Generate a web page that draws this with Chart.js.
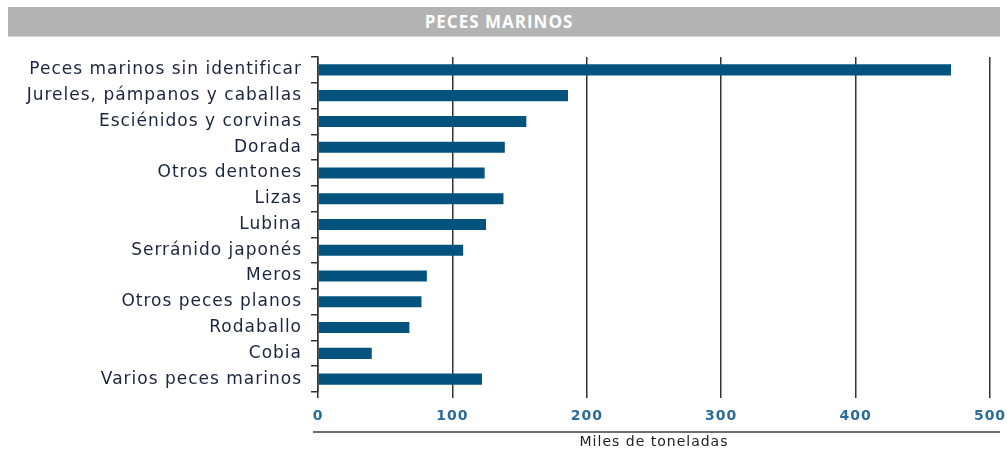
<!doctype html>
<html lang="es">
<head>
<meta charset="utf-8">
<title>Peces marinos</title>
<script src="https://cdn.jsdelivr.net/npm/chart.js"></script>
<style>
  html, body { margin: 0; padding: 0; background: #fff; }
  #wrap { position: relative; width: 1007px; height: 452px; }
  #banner {
    position: absolute; left: 8px; top: 7px; width: 992px; height: 30px;
    box-sizing: border-box; padding-right: 10px;
    background: #b3b3b3; color: #fff; text-align: center; line-height: 30px;
    font-family: "Open Sans", sans-serif; font-weight: bold; font-size: 17px; letter-spacing: 1px;
    border-bottom: 1px solid #d6d6d6;
  }
  canvas { position: absolute; left: 0; top: 0; }
</style>
</head>
<body>
<div id="wrap">
  <canvas id="barChart" width="1007" height="452"></canvas>
  <div id="banner">PECES MARINOS</div>
</div>
<script>
// data (miles de toneladas)
var species = ['Peces marinos sin identificar', 'Jureles, pámpanos y caballas', 'Esciénidos y corvinas',
  'Dorada', 'Otros dentones', 'Lizas', 'Lubina', 'Serránido japonés', 'Meros',
  'Otros peces planos', 'Rodaballo', 'Cobia', 'Varios peces marinos'];
var tonnes = [471, 186, 155, 139, 124, 138, 125, 108, 81, 77, 68, 40, 122];
var xTicks = [0, 100, 200, 300, 400, 500];
var axisTitle = 'Miles de toneladas';

// the source typeface is set a bit loose
var spacing = {
  id: 'spacing',
  beforeDraw: function(chart) { chart.ctx.letterSpacing = '1px'; }
};

// thin rule between the tick labels and the axis title
var underline = {
  id: 'underline',
  afterDraw: function(chart) {
    var ctx = chart.ctx, area = chart.chartArea, xs = chart.scales.x;
    ctx.save();
    ctx.strokeStyle = '#6e6e6e';
    ctx.lineWidth = 2;
    ctx.beginPath();
    ctx.moveTo(area.left - 5, xs.bottom - 20);
    ctx.lineTo(area.right + 10, xs.bottom - 20);
    ctx.stroke();
    ctx.restore();
  }
};

new Chart(document.getElementById('barChart'), {
  type: 'bar',
  data: {
    labels: species,
    datasets: [{
      data: tonnes,
      backgroundColor: '#03537e',
      barPercentage: 0.43,
      categoryPercentage: 1
    }]
  },
  options: {
    indexAxis: 'y',
    responsive: false,
    animation: false,
    layout: { padding: { top: 57, right: 17, left: 0, bottom: 0 } },
    plugins: { legend: { display: false }, tooltip: { enabled: false } },
    scales: {
      x: {
        min: 0, max: 500, z: 1,
        afterBuildTicks: function(scale) { scale.ticks = xTicks.map(function(v) { return { value: v }; }); },
        afterFit: function(scale) {
          scale.height = 60;
          scale.paddingLeft = 0;
          scale.paddingRight = 0;
        },
        grid: { color: '#333', lineWidth: 1.5, tickLength: 6 },
        border: { display: false },
        ticks: {
          padding: 10, color: '#2a6b97',
          font: { family: 'DejaVu Sans', size: 14, weight: 'bold' }
        },
        title: {
          display: true, text: axisTitle, color: '#222',
          font: { family: 'DejaVu Sans', size: 14 },
          padding: { top: 0, bottom: 1 }
        }
      },
      y: {
        afterFit: function(scale) { scale.width = 318; },
        grid: { drawOnChartArea: false, drawTicks: true, tickLength: 7, color: '#333', lineWidth: 1.5 },
        border: { display: true, color: '#333', width: 1.5 },
        ticks: {
          padding: 9, color: '#1c2540',
          font: { family: 'DejaVu Sans', size: 17 }
        }
      }
    }
  },
  plugins: [spacing, underline]
});
</script>
</body>
</html>
